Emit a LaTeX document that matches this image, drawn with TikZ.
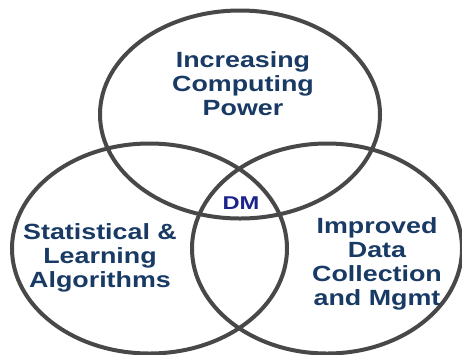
\documentclass[tikz,border=0pt]{standalone}
\usepackage{fontspec}
\setmainfont{Liberation Sans}
\definecolor{ringcol}{RGB}{72,72,72}
\definecolor{labcol}{RGB}{24,58,100}
\definecolor{dmcol}{RGB}{28,36,140}
\begin{document}
\begin{tikzpicture}[x=1pt,y=-1pt,
  ring/.style={draw=ringcol,line width=4pt},
  lab/.style={text=labcol,font=\bfseries\fontsize{22}{24}\selectfont,align=center,inner sep=0pt,anchor=north,xscale=1.22},
  dmlab/.style={text=dmcol,font=\bfseries\fontsize{18.5}{20}\selectfont,inner sep=0pt,xscale=1.28}]
\useasboundingbox (0,0) rectangle (462,354);
\fill[white] (0,0) rectangle (462,354);
\draw[ring] (240,114.5) ellipse [x radius=140, y radius=104];
\draw[ring] (149.5,248.5) ellipse [x radius=137.5, y radius=105];
\draw[ring] (327,248.5) ellipse [x radius=135, y radius=105];
\node[lab] (top) at (243,51.5) {Increasing\\Computing\\Power};
\node[lab] (left) at (100,223.5) {Statistical \&\\Learning\\Algorithms};
\node[lab] (right) at (377,217.5) {Improved\\Data\\Collection\\and Mgmt};
\node[dmlab] (dm) at (241,203.5) {DM};
\end{tikzpicture}
\end{document}
